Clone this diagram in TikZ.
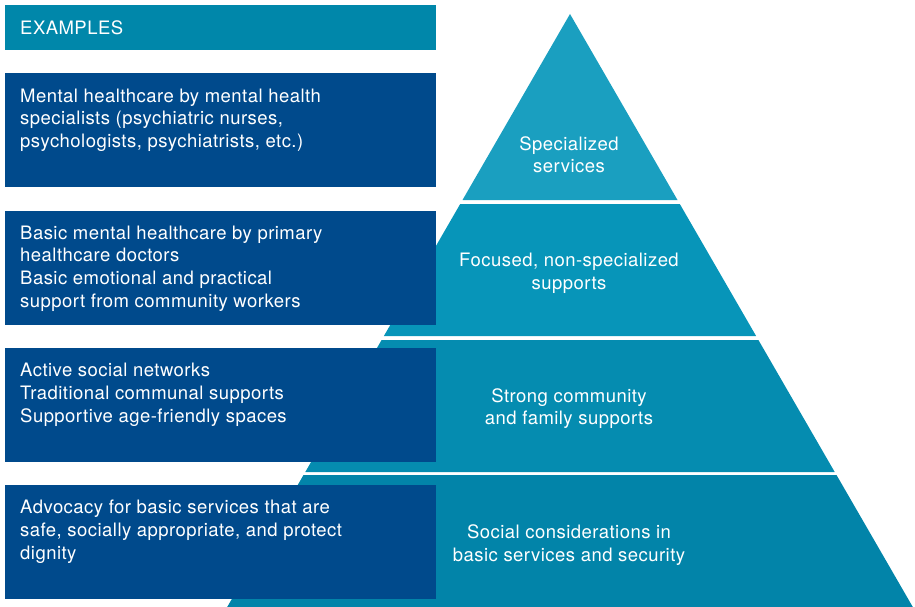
\documentclass[tikz,border=0pt]{standalone}
\usepackage{fontspec}
\setmainfont[LetterSpace=2.5]{TeX Gyre Heros}
\usetikzlibrary{positioning}

\definecolor{exhead}{HTML}{0087AA}
\definecolor{exdark}{HTML}{004A8C}
\definecolor{tierA}{HTML}{1A9FC0}
\definecolor{tierB}{HTML}{0795B9}
\definecolor{tierC}{HTML}{058CB0}
\definecolor{tierD}{HTML}{0284A9}

\begin{document}
\begin{tikzpicture}[
    x=1pt, y=-1pt,
    example/.style={fill=exdark, minimum width=431pt, minimum height=114pt, inner sep=0pt, anchor=north west},
    extext/.style={anchor=north west, inner sep=0pt, align=left, text=white, font=\fontsize{18.5}{22.7}\selectfont},
    tierlabel/.style={anchor=north, inner sep=0pt, align=center, text=white, font=\fontsize{18.5}{22.7}\selectfont}
]
\useasboundingbox (0,0) rectangle (915,607);

% Pyramid tiers
\fill[tierA] (570,14) -- (677.5,200) -- (462.5,200) -- cycle;
\fill[tierB] (460.2,204) -- (679.8,204) -- (756.1,336) -- (383.9,336) -- cycle;
\fill[tierC] (381.6,340) -- (758.4,340) -- (834.7,472) -- (305.3,472) -- cycle;
\fill[tierD] (303.5,475) -- (836.5,475) -- (912.8,607) -- (227.2,607) -- cycle;

% Tier labels
\node[tierlabel] (spec) at (569,136) {Specialized\\services};
\node[tierlabel] (focus) at (569,253) {Focused, non-specialized\\supports};
\node[tierlabel] (comm) at (569,388) {Strong community\\and family supports};
\node[tierlabel] (social) at (569,524.5) {Social considerations in\\basic services and security};

% Header
\node[fill=exhead, minimum width=431pt, minimum height=45pt, inner sep=0pt, anchor=north west] (head) at (5,5) {};
\node[anchor=west, inner sep=0pt, text=white, font=\fontsize{18.5}{22.7}\selectfont] (headtext) at (20,27.5) {EXAMPLES};

% Example boxes
\node[example] (ex1) at (5,73) {};
\node[extext] (ex1text) at ([xshift=15pt,yshift=-15.5pt]ex1.north west) {Mental healthcare by mental health\\specialists (psychiatric nurses,\\psychologists, psychiatrists, etc.)};

\node[example] (ex2) at (5,211) {};
\node[extext] (ex2text) at ([xshift=15pt,yshift=-14.5pt]ex2.north west) {Basic mental healthcare by primary\\healthcare doctors\\Basic emotional and practical\\support from community workers};

\node[example] (ex3) at (5,348) {};
\node[extext] (ex3text) at ([xshift=15pt,yshift=-15pt]ex3.north west) {Active social networks\\Traditional communal supports\\Supportive age-friendly spaces};

\node[example] (ex4) at (5,485) {};
\node[extext] (ex4text) at ([xshift=15pt,yshift=-15pt]ex4.north west) {Advocacy for basic services that are\\safe, socially appropriate, and protect\\dignity};

\end{tikzpicture}
\end{document}
